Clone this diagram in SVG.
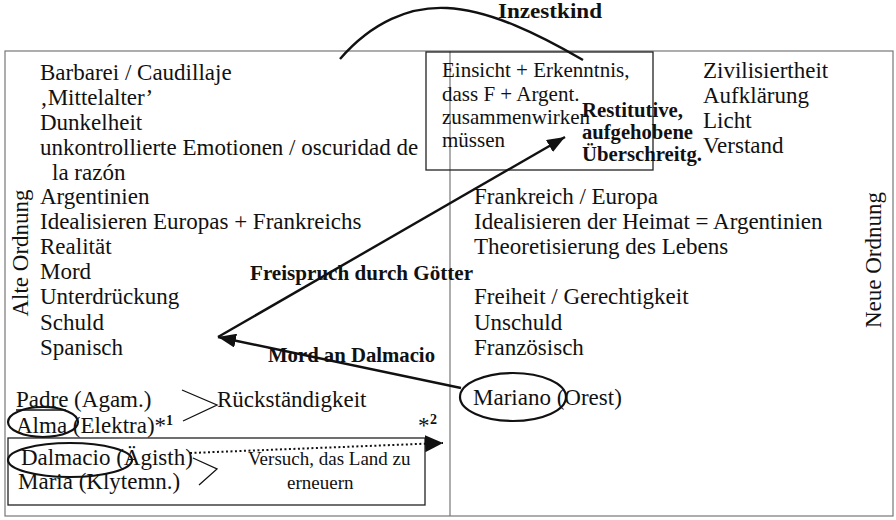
<svg xmlns="http://www.w3.org/2000/svg" width="896" height="520" viewBox="0 0 896 520">
<style>
.t{font-family:"Liberation Serif","Times New Roman",serif;font-size:23px;fill:#111}
.s{font-size:21px}
.v{font-size:19px}
.b{font-family:"Liberation Serif","Times New Roman",serif;font-weight:bold;font-size:20px;fill:#111}
.sup{font-family:"Liberation Serif","Times New Roman",serif;font-weight:bold;font-size:14px;fill:#111}
.frame{fill:none;stroke:#777;stroke-width:1.2}
.box{fill:none;stroke:#222;stroke-width:1.3}
.ln{fill:none;stroke:#111;stroke-width:2.4}
.thin{fill:none;stroke:#111;stroke-width:1.3}
.ell{fill:none;stroke:#111;stroke-width:2.2}
.dot{fill:none;stroke:#111;stroke-width:2;stroke-dasharray:2 2.5}
</style>
<defs>
<marker id="ah" viewBox="0 0 18 14" refX="18" refY="7" markerWidth="18" markerHeight="14" markerUnits="userSpaceOnUse" orient="auto"><path d="M0,0 L18,7 L0,14 z" fill="#111"/></marker>
<marker id="ahb" viewBox="0 0 18 17" refX="18" refY="8.5" markerWidth="18" markerHeight="17" markerUnits="userSpaceOnUse" orient="auto"><path d="M0,0 L18,8.5 L0,17 z" fill="#111"/></marker>
</defs>
<rect width="896" height="520" fill="#fff"/>
<g id="frame">
<rect class="frame" x="5" y="51" width="888" height="465"/>
<line class="frame" x1="450" y1="51" x2="450" y2="516"/>
</g>
<g id="alte-ordnung">
<text class="t" transform="translate(28,253) rotate(-90)" text-anchor="middle">Alte Ordnung</text>
<text class="t" x="40" y="80">Barbarei / Caudillaje</text>
<text class="t" x="40" y="105">‚Mittelalter’</text>
<text class="t" x="40" y="130">Dunkelheit</text>
<text class="t" x="40" y="155">unkontrollierte Emotionen / oscuridad de</text>
<text class="t" x="52" y="180">la razón</text>
<text class="t" x="40" y="204">Argentinien</text>
<text class="t" x="40" y="229">Idealisieren Europas + Frankreichs</text>
<text class="t" x="40" y="254">Realität</text>
<text class="t" x="40" y="279">Mord</text>
<text class="t" x="40" y="304">Unterdrückung</text>
<text class="t" x="40" y="330">Schuld</text>
<text class="t" x="40" y="355">Spanisch</text>
</g>
<g id="neue-ordnung">
<text class="t" transform="translate(881,260) rotate(-90)" text-anchor="middle">Neue Ordnung</text>
<text class="t" x="703" y="78">Zivilisiertheit</text>
<text class="t" x="703" y="103">Aufklärung</text>
<text class="t" x="703" y="128">Licht</text>
<text class="t" x="703" y="153">Verstand</text>
<text class="t" x="474" y="204">Frankreich / Europa</text>
<text class="t" x="474" y="229">Idealisieren der Heimat = Argentinien</text>
<text class="t" x="474" y="254">Theoretisierung des Lebens</text>
<text class="t" x="474" y="304">Freiheit / Gerechtigkeit</text>
<text class="t" x="474" y="330">Unschuld</text>
<text class="t" x="474" y="355">Französisch</text>
</g>
<g id="einsicht">
<rect class="box" x="426" y="52" width="227" height="118"/>
<text class="t s" x="442" y="77">Einsicht + Erkenntnis,</text>
<text class="t s" x="442" y="101">dass F + Argent.</text>
<text class="t s" x="442" y="124">zusammenwirken</text>
<text class="t s" x="442" y="147">müssen</text>
</g>
<g id="mariano">
<ellipse class="ell" cx="513" cy="397" rx="53" ry="24"/>
<text class="t" x="473" y="405">Mariano (Orest)</text>
</g>
<g id="familie">
<text class="t" x="16" y="407">Padre (Agam.)</text>
<line class="thin" x1="16" y1="410" x2="66" y2="410"/>
<polyline class="thin" points="182,390 217,405 183,421"/>
<text class="t" x="217" y="407">Rückständigkeit</text>
<ellipse class="ell" cx="43" cy="422" rx="35" ry="15"/>
<text class="t" x="16" y="433">Alma (Elektra)*</text>
<text class="sup" x="166" y="425">1</text>
</g>
<g id="reform">
<rect class="box" x="8" y="438" width="417" height="67"/>
<ellipse class="ell" cx="70" cy="460" rx="62" ry="17"/>
<text class="t" x="21" y="465">Dalmacio (Ägisth)</text>
<text class="t" x="18" y="489">Maria (Klytemn.)</text>
<polyline class="thin" points="193,458 217,469 199,485"/>
<text class="t v" x="248" y="465">Versuch, das Land zu</text>
<text class="t v" x="287" y="489">erneuern</text>
<text class="t" x="418" y="433">*</text>
<text class="sup" x="430" y="424">2</text>
</g>
<g id="connectors">
<path class="ln" d="M340,59 C372,22 410,6 447,8 C490,10 540,35 583,60" stroke-width="2"/>
<line class="ln" x1="218" y1="337" x2="565" y2="137" marker-end="url(#ah)"/>
<line class="ln" x1="461" y1="388" x2="218" y2="337" marker-end="url(#ah)"/>
<line class="dot" x1="190" y1="453" x2="443" y2="443" marker-end="url(#ahb)"/>
</g>
<g id="labels">
<text class="b" x="498" y="18" textLength="104" lengthAdjust="spacingAndGlyphs">Inzestkind</text>
<text class="b" x="582" y="117" textLength="101" lengthAdjust="spacingAndGlyphs">Restitutive,</text>
<text class="b" x="582" y="139" textLength="111" lengthAdjust="spacingAndGlyphs">aufgehobene</text>
<text class="b" x="582" y="161" textLength="120" lengthAdjust="spacingAndGlyphs">Überschreitg.</text>
<text class="b" x="250" y="280" textLength="223" lengthAdjust="spacingAndGlyphs">Freispruch durch Götter</text>
<text class="b" x="268" y="362" textLength="167" lengthAdjust="spacingAndGlyphs">Mord an Dalmacio</text>
</g>
</svg>
